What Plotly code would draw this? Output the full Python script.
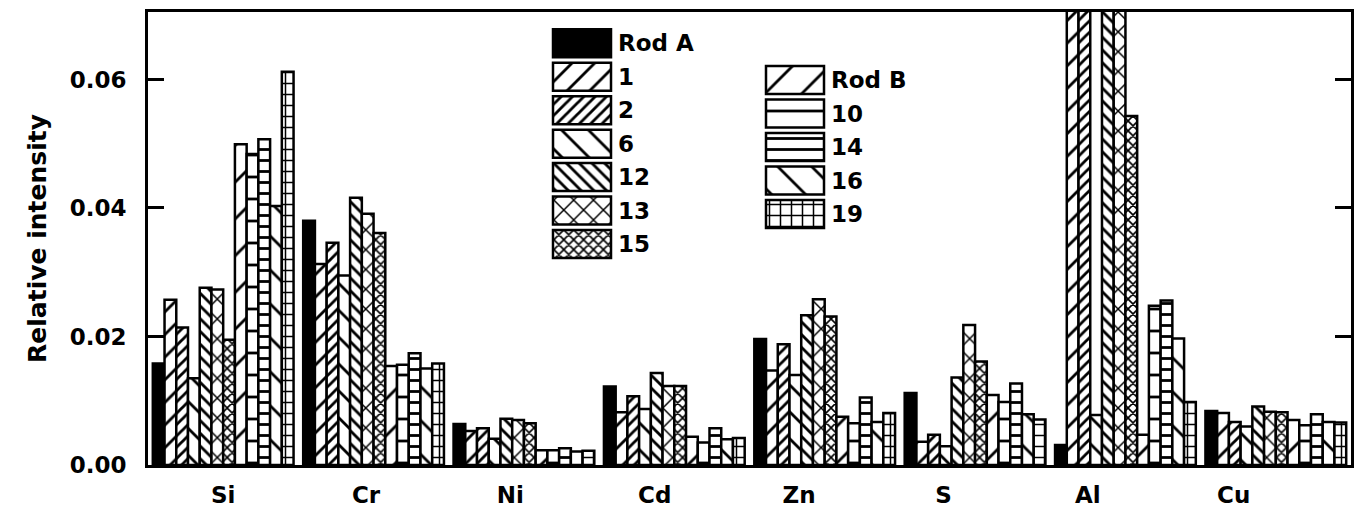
import plotly.graph_objects as go

# Elements on the x axis and sample series (bar order inside each group)
elements = ["Si", "Cr", "Ni", "Cd", "Zn", "S", "Al", "Cu"]
group_pos = [0, 1, 2, 3, 4, 5, 6, 7]
label_pos = [0.0, 0.95, 1.91, 2.87, 3.83, 4.79, 5.75, 6.72]
series = ["Rod A", "1", "2", "6", "12", "13", "15", "Rod B", "10", "14", "16", "19"]

# Relative intensity for each series, one value per element (Si ... Cu)
rod_a = [0.0158, 0.0380, 0.0064, 0.0122, 0.0196, 0.0112, 0.0031, 0.0084]
s1 = [0.0257, 0.0313, 0.0053, 0.0082, 0.0147, 0.0036, 0.0900, 0.0081]
s2 = [0.0214, 0.0346, 0.0057, 0.0107, 0.0188, 0.0047, 0.0900, 0.0067]
s6 = [0.0135, 0.0295, 0.0041, 0.0087, 0.0140, 0.0029, 0.0078, 0.0060]
s12 = [0.0276, 0.0416, 0.0072, 0.0143, 0.0233, 0.0136, 0.0900, 0.0091]
s13 = [0.0273, 0.0391, 0.0070, 0.0123, 0.0258, 0.0218, 0.0900, 0.0083]
s15 = [0.0195, 0.0361, 0.0065, 0.0123, 0.0231, 0.0161, 0.0543, 0.0082]
rod_b = [0.0499, 0.0154, 0.0023, 0.0044, 0.0075, 0.0109, 0.0047, 0.0070]
s10 = [0.0484, 0.0156, 0.0023, 0.0035, 0.0065, 0.0098, 0.0248, 0.0062]
s14 = [0.0507, 0.0174, 0.0026, 0.0057, 0.0105, 0.0127, 0.0256, 0.0079]
s16 = [0.0403, 0.0150, 0.0021, 0.0040, 0.0067, 0.0079, 0.0197, 0.0067]
s19 = [0.0612, 0.0158, 0.0022, 0.0042, 0.0081, 0.0071, 0.0098, 0.0066]

values = [rod_a, s1, s2, s6, s12, s13, s15, rod_b, s10, s14, s16, s19]

y_ticks = [0.00, 0.02, 0.04, 0.06]
y_tick_text = ["0.00", "0.02", "0.04", "0.06"]

# Hatch style per series: (shape, tile size in px)
hatches = [
    ("", 8), ("/", 16), ("/", 8), ("\\", 19), ("\\", 9), ("x", 14),
    ("x", 7), ("/", 26), ("-", 22), ("-", 11), ("\\", 24), ("+", 11),
]

INK = "black"
FONT = "DejaVu Sans"
LINE_W = 2.5


def marker_for(shape, size):
    if shape == "":
        return dict(color=INK, line=dict(color=INK, width=LINE_W))
    return dict(color="white", line=dict(color=INK, width=LINE_W),
                pattern=dict(shape=shape, size=size, solidity=min(0.6, 2.8 / size),
                             fgcolor=INK, bgcolor="white", fillmode="replace"))


fig = go.Figure()

for name, vals, (shape, size) in zip(series, values, hatches):
    fig.add_trace(go.Bar(
        x=group_pos, y=vals, name=name, showlegend=False,
        marker=marker_for(shape, size), hoverinfo="skip",
    ))

# Key drawn on an overlay axis measured in pixels (x: left->right, y: top->bottom)
n_left = 7
key_len = 58
key_h = 28
key_x0 = [553] * n_left + [766] * (len(series) - n_left)
key_y = [43.3 + 33.45 * i for i in range(n_left)] + \
        [80.0 + 33.5 * j for j in range(len(series) - n_left)]

annotations = []
for name, (shape, size), xb, yy in zip(series, hatches, key_x0, key_y):
    fig.add_trace(go.Bar(
        x=[key_len], y=[yy], base=[xb], orientation="h",
        width=key_h, offset=-key_h / 2, xaxis="x2", yaxis="y2",
        showlegend=False, hoverinfo="skip", marker=marker_for(shape, size),
    ))
    annotations.append(dict(
        x=xb + key_len + 5, y=yy, xref="x2", yref="y2", text=name,
        showarrow=False, xanchor="left", yanchor="middle",
        font=dict(family=FONT, size=23, color=INK, weight="bold"),
    ))

fig.update_layout(
    width=1362, height=514,
    margin=dict(l=148, r=11, t=12, b=49),
    paper_bgcolor="white", plot_bgcolor="white",
    barmode="group", bargap=0.064, bargroupgap=0,
    font=dict(family=FONT, color=INK),
    annotations=annotations,
    xaxis=dict(
        range=[-0.5, 7.5], showgrid=False, zeroline=False, automargin=False,
        showline=True, linecolor=INK, linewidth=3, mirror=True,
        ticks="", tickvals=label_pos, ticktext=elements, ticklabelstandoff=7,
        tickfont=dict(family=FONT, size=23, color=INK, weight="bold"),
    ),
    yaxis=dict(
        range=[0, 0.0705], showgrid=False, zeroline=False, automargin=False,
        showline=True, linecolor=INK, linewidth=3, mirror="ticks",
        ticks="inside", ticklen=16, tickwidth=2.5, tickcolor=INK,
        tickvals=y_ticks, ticktext=y_tick_text, ticklabelstandoff=14,
        tickfont=dict(family=FONT, size=23, color=INK, weight="bold"),
        title=dict(text="Relative intensity", standoff=16,
                   font=dict(family=FONT, size=25, color=INK, weight="bold")),
    ),
    xaxis2=dict(overlaying="x", range=[148, 1351], visible=False, fixedrange=True),
    yaxis2=dict(overlaying="y", range=[465, 12], visible=False, fixedrange=True),
)

fig.write_html("out.html")
